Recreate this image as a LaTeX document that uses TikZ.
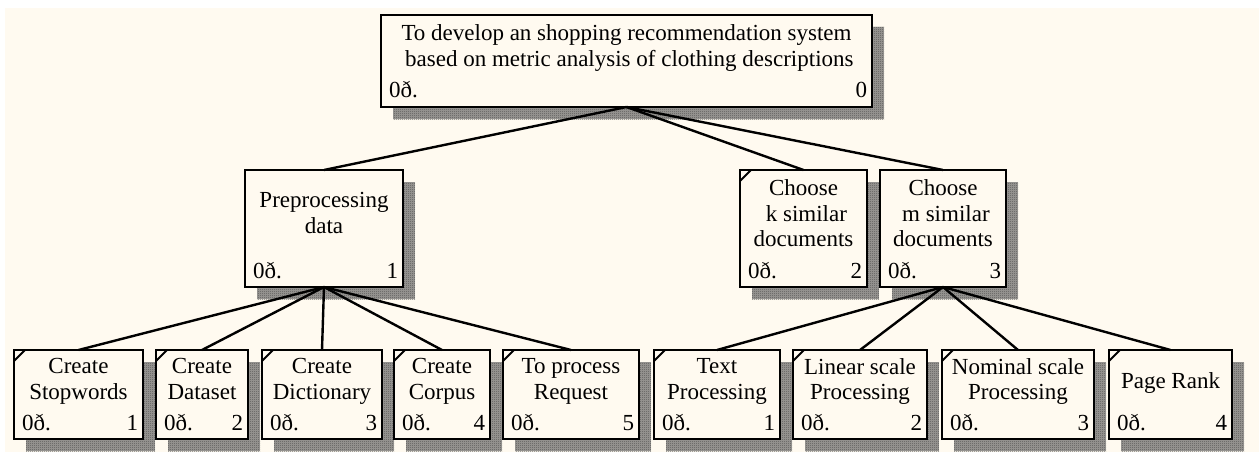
\documentclass[tikz,border=0pt]{standalone}
\usepackage{fontspec}
\setmainfont{Liberation Serif}
\usetikzlibrary{patterns.meta}

\definecolor{cream}{RGB}{255,250,240}
\definecolor{shadefill}{RGB}{160,158,154}
\definecolor{shade}{RGB}{60,60,60}

% fine checkerboard used for the drop shadows
\tikzdeclarepattern{
  name=checker,
  type=uncolored,
  bottom left={(0pt,0pt)},
  top right={(2pt,2pt)},
  tile size={(2pt,2pt)},
  code={
    \fill (0pt,0pt) rectangle (1pt,1pt);
    \fill (1pt,1pt) rectangle (2pt,2pt);
  }
}

\tikzset{
  wbs/.style={draw=black, line width=2.4pt, fill=cream, rectangle,
    inner sep=0pt, outer sep=0pt},
  caption/.style={align=center, inner sep=0pt, outer sep=0pt,
    font=\fontsize{23}{25.5}\selectfont,
    execute at begin node=\strut, execute at end node=\strut},
  corner/.style={inner sep=0pt, outer sep=0pt,
    font=\fontsize{23}{25.5}\selectfont},
  shadow/.style={fill=shadefill, postaction={pattern=checker, pattern color=shade}},
  link/.style={draw=black, line width=2.4pt},
  tick/.style={draw=black, line width=2pt},
}

% #1 name, #2 left, #3 top, #4 right, #5 bottom, #6 text, #7 number, #8 mean baseline of text
\newcommand\wbsbox[8]{%
  \fill[shadow] (#2+12,#3+12) rectangle (#4+12,#5+12);
  \node[wbs, minimum width={#4-#2}, minimum height={#5-#3}] (#1)
    at ({(#2+#4)/2},{(#3+#5)/2}) {};
  \node[caption] (#1-t) at ({(#2+#4)/2},{#8-5.1}) {#6};
  \node[corner, anchor=base west] (#1-l) at (#2+8,#5-9) {0ð.};
  \node[corner, anchor=base east] (#1-n) at (#4-5,#5-9) {#7};
}
% small diagonal mark in the upper left corner of a leaf box
\newcommand\leafmark[1]{%
  \draw[tick] ([yshift=-11pt]#1.north west) -- ([xshift=11pt]#1.north west);
}

\begin{document}
\begin{tikzpicture}[x=1pt, y=-1pt]
  \useasboundingbox (0,0) rectangle (1259,452);
  \fill[white] (0,0) rectangle (1259,452);
  \fill[cream] (5,8) rectangle (1259,452);

  % root
  \wbsbox{top}{381}{15}{872}{107}{To develop an shopping recommendation system\\\ based on metric analysis of clothing descriptions}{0}{54.5}

  % second level
  \wbsbox{pre}{245}{170}{403}{287}{Preprocessing\\data}{1}{222}
  \wbsbox{ck}{740}{170}{867}{287}{Choose\\\ k similar\\documents}{2}{222}
  \wbsbox{cm}{880}{170}{1006}{287}{Choose\\\ m similar\\documents}{3}{222}
  \leafmark{ck}

  % third level under preprocessing
  \wbsbox{sw}{14}{350}{143}{439}{Create\\Stopwords}{1}{388}
  \wbsbox{ds}{156}{350}{248}{439}{Create\\Dataset}{2}{388}
  \wbsbox{dc}{262}{350}{382}{439}{Create\\Dictionary}{3}{388}
  \wbsbox{cp}{394}{350}{490}{439}{Create\\Corpus}{4}{388}
  \wbsbox{rq}{503}{350}{639}{439}{To process\\Request}{5}{388}

  % third level under choosing m documents
  \wbsbox{tp}{654}{350}{780}{439}{Text\\Processing}{1}{388}
  \wbsbox{ls}{793}{350}{927}{439}{Linear scale\\Processing}{2}{388}
  \wbsbox{ns}{942}{350}{1094}{439}{Nominal scale\\Processing}{3}{388}
  \wbsbox{pr}{1109}{350}{1232}{439}{Page Rank}{4}{388}

  \foreach \b in {sw,ds,dc,cp,rq,tp,ls,ns,pr} {\leafmark{\b}}

  % connectors
  \foreach \c in {pre,ck,cm} {\draw[link] (top.south) -- (\c.north);}
  \foreach \c in {sw,ds,dc,cp,rq} {\draw[link] (pre.south) -- (\c.north);}
  \foreach \c in {tp,ls,ns,pr} {\draw[link] (cm.south) -- (\c.north);}
\end{tikzpicture}
\end{document}
